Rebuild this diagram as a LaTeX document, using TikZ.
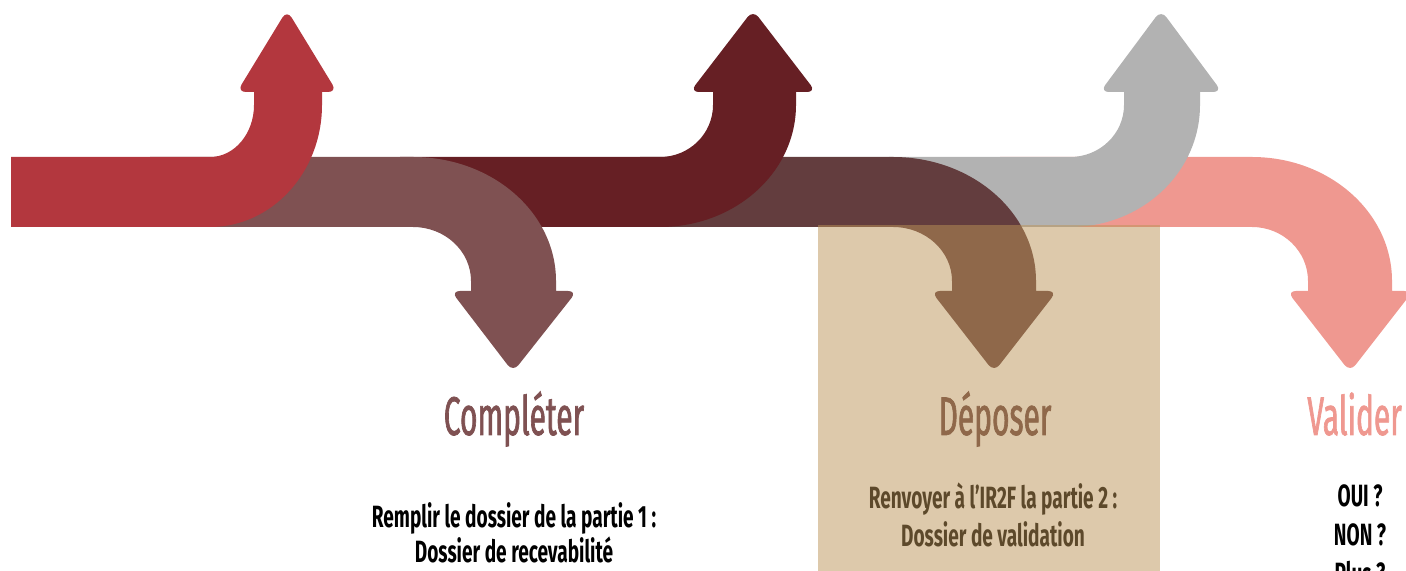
\documentclass[tikz,border=0pt]{standalone}
\usepackage{fontspec}
\setmainfont{Fira Sans}
\newfontfamily\stepfont[FakeStretch=0.55,FakeBold=1.2]{Fira Sans}
\newfontfamily\bodyfont[FakeStretch=0.62]{Fira Sans}
\usetikzlibrary{positioning}

\definecolor{redA}{HTML}{B3373E}
\definecolor{plum}{HTML}{7F5152}
\definecolor{wine}{HTML}{661F24}
\definecolor{mocha}{HTML}{633D3E}
\definecolor{greyA}{HTML}{B2B2B2}
\definecolor{salmon}{HTML}{EF9890}
\definecolor{tanA}{HTML}{BB9357}

\begin{document}
\begin{tikzpicture}[x=0.02cm,y=0.02cm,
    title/.style={font=\stepfont\fontsize{31}{31}\selectfont,anchor=base,inner sep=0pt},
    body/.style={font=\bodyfont\bfseries\fontsize{17.5}{17.5}\selectfont,anchor=base,inner sep=0pt}]
            \useasboundingbox (0,0) rectangle (1406,571);

            % Valider
            \fill[salmon] (1000,414) -- (1252,414) arc[start angle=90,end angle=0,x radius=140,y radius=124]
                -- (1392,280) [rounded corners=5pt] -- (1413,280) -- (1350,199) -- (1287,280) [sharp corners] -- (1308,280)
                -- (1308,290) arc[start angle=0,end angle=90,x radius=56,y radius=54] -- (1000,344) -- cycle;
            % fleche grise
            \fill[greyA] (889,344) -- (889,414) -- (1070,414) arc[start angle=-90,end angle=0,x radius=54,y radius=52]
                -- (1124,479) [rounded corners=5pt] -- (1100,479) -- (1161,561) -- (1222,479) [sharp corners] -- (1200,479)
                -- (1200,466) arc[start angle=0,end angle=-90,x radius=130,y radius=122] -- cycle;
            % Deposer
            \fill[mocha] (640,414) -- (893,414) arc[start angle=90,end angle=0,x radius=143,y radius=124]
                -- (1036,280) [rounded corners=5pt] -- (1057,280) -- (994,199) -- (931,280) [sharp corners] -- (952,280)
                -- (952,290) arc[start angle=0,end angle=90,x radius=59,y radius=54] -- (640,344) -- cycle;
            % fleche bordeaux
            \fill[wine] (400,344) -- (400,414) -- (660,414) arc[start angle=-90,end angle=0,x radius=53,y radius=52]
                -- (713,479) [rounded corners=5pt] -- (690,479) -- (753,561) -- (816,479) [sharp corners] -- (796,479)
                -- (796,466) arc[start angle=0,end angle=-90,x radius=136,y radius=122] -- cycle;
            % Completer
            \fill[plum] (150,414) -- (413,414) arc[start angle=90,end angle=0,x radius=143,y radius=124]
                -- (556,280) [rounded corners=5pt] -- (577,280) -- (513,199) -- (451,280) [sharp corners] -- (471,280)
                -- (471,290) arc[start angle=0,end angle=90,x radius=58,y radius=54] -- (150,344) -- cycle;
            % fleche rouge
            \fill[redA] (11,344) -- (11,414) -- (210,414) arc[start angle=-90,end angle=0,x radius=44,y radius=52]
                -- (254,479) [rounded corners=5pt] -- (237,479) -- (287,561) -- (337,479) [sharp corners] -- (322,479)
                -- (322,466) arc[start angle=0,end angle=-90,x radius=112,y radius=122] -- cycle;

            \node[title,text=plum] (completer) at (514,136) {Compléter};
            \node[title,text=mocha] (deposer) at (995,136) {Déposer};
            \node[title,text=salmon,anchor=base west] (valider) at (1307,136) {Valider};

            \node[body] (remplir) at (514,43) {Remplir le dossier de la partie 1 :};
            \node[body] (recev) at (514,8) {Dossier de recevabilité};
            \node[body] (renvoyer) at (993,62) {Renvoyer à l’IR2F la partie 2 :};
            \node[body] (validation) at (993,24) {Dossier de validation};
            \node[body] (oui) at (1360,64) {OUI ?};
            \node[body] (non) at (1360,25) {NON ?};
            \node[body] (plus) at (1360,-14) {Plus ?};

            \fill[tanA,opacity=0.5] (818,0) rectangle (1160,346);
        \end{tikzpicture}
\end{document}
